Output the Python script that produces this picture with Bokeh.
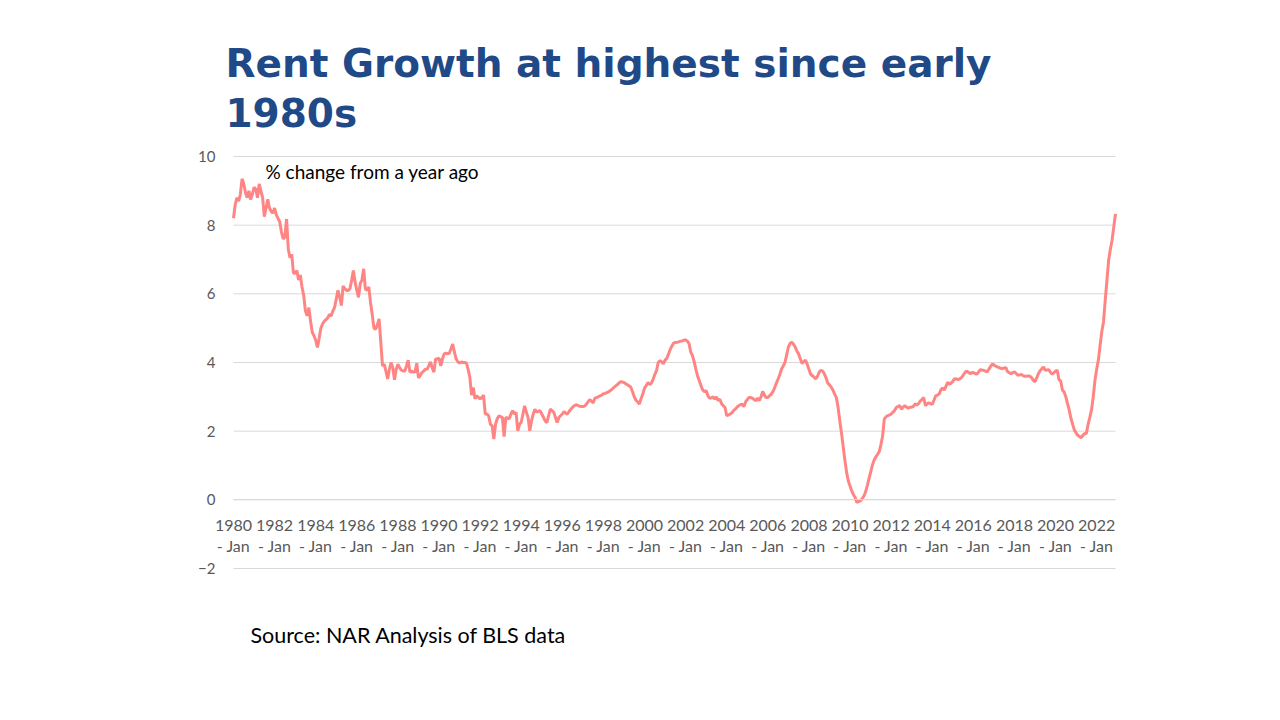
import pandas as pd
from bokeh.plotting import figure
from bokeh.models import FixedTicker, Label, Range1d, ColumnDataSource
from bokeh.embed import file_html
from bokeh.resources import INLINE

# Monthly rent CPI, % change from a year ago
rent_1980s = [
    8.2, 8.6, 8.8, 8.7, 8.9, 9.35, 9.2, 8.95, 8.8, 9.0, 8.75, 8.9,
    9.1, 9.05, 8.8, 9.2, 9.0, 8.8, 8.25, 8.5, 8.75, 8.5, 8.4, 8.35,
    8.5, 8.3, 8.2, 8.1, 7.8, 7.6, 7.65, 8.18, 7.3, 7.05, 7.15, 6.6,
    6.6, 6.68, 6.4, 6.55, 6.2, 5.95, 5.5, 5.36, 5.6, 5.2, 4.88, 4.78,
    4.65, 4.44, 4.7, 5.0, 5.12, 5.2, 5.25, 5.3, 5.4, 5.35, 5.5, 5.6,
    5.85, 6.1, 5.9, 5.66, 6.23, 6.15, 6.1, 6.1, 6.15, 6.4, 6.68, 6.34,
    6.1, 5.9, 6.3, 6.4, 6.73, 6.14, 6.1, 6.2, 5.75, 5.4, 5.0, 4.97,
    5.1, 5.27, 4.6, 3.9, 3.95, 3.75, 3.52, 3.8, 4.0, 3.85, 3.5, 3.8,
    3.95, 3.85, 3.78, 3.75, 3.75, 3.9, 4.07, 3.72, 3.75, 3.72, 3.72, 3.98,
    3.55, 3.62, 3.7, 3.75, 3.8, 3.8, 3.9, 4.02, 3.85, 3.72, 4.1, 4.1,
]
rent_1990s = [
    4.13, 3.9, 4.1, 4.25, 4.27, 4.25, 4.27, 4.4, 4.54, 4.3, 4.1, 4.02,
    3.98, 4.02, 4.0, 4.0, 3.98, 3.8, 3.57, 3.05, 3.27, 2.94, 3.03, 2.98,
    2.94, 2.98, 3.05, 2.5, 2.5, 2.45, 2.2, 2.16, 1.77, 2.2, 2.36, 2.45,
    2.42, 2.4, 1.84, 2.4, 2.38, 2.36, 2.5, 2.6, 2.5, 2.55, 2.01, 2.2,
    2.26, 2.5, 2.74, 2.55, 2.4, 2.01, 2.3, 2.5, 2.64, 2.55, 2.58, 2.6,
    2.5, 2.4, 2.3, 2.25, 2.45, 2.64, 2.6, 2.55, 2.4, 2.25, 2.4, 2.45,
    2.5, 2.57, 2.52, 2.5, 2.58, 2.64, 2.7, 2.74, 2.77, 2.75, 2.73, 2.72,
    2.72, 2.73, 2.78, 2.85, 2.92, 2.88, 2.82, 2.96, 2.98, 3.0, 3.03, 3.05,
    3.09, 3.1, 3.12, 3.15, 3.18, 3.22, 3.27, 3.31, 3.35, 3.4, 3.44, 3.43,
    3.42, 3.38, 3.35, 3.32, 3.28, 3.15, 3.0, 2.9, 2.85, 2.79, 2.95, 3.08,
]
rent_2000s = [
    3.25, 3.33, 3.42, 3.36, 3.4, 3.51, 3.65, 3.76, 4.0, 4.05, 4.02, 3.96,
    4.07, 4.12, 4.25, 4.38, 4.48, 4.57, 4.58, 4.59, 4.6, 4.62, 4.63, 4.65,
    4.66, 4.62, 4.55, 4.3, 4.2, 4.02, 3.8, 3.6, 3.47, 3.32, 3.2, 3.15,
    3.18, 3.03, 2.96, 2.97, 3.0, 2.93, 3.0, 2.89, 2.93, 2.8, 2.74, 2.69,
    2.45, 2.47, 2.5, 2.53, 2.6, 2.64, 2.7, 2.74, 2.77, 2.79, 2.71, 2.85,
    2.92, 2.98, 2.98, 2.96, 2.92, 2.89, 2.96, 2.89, 3.0, 3.16, 3.05, 2.98,
    2.98, 3.03, 3.08, 3.15, 3.27, 3.4, 3.52, 3.65, 3.81, 3.9, 4.0, 4.22,
    4.45, 4.56, 4.59, 4.53, 4.45, 4.33, 4.25, 4.1, 3.97, 4.02, 4.07, 3.95,
    3.8, 3.66, 3.61, 3.58, 3.52, 3.6, 3.72, 3.77, 3.75, 3.67, 3.55, 3.4,
    3.35, 3.28, 3.2, 3.08, 2.98, 2.7, 2.3, 1.95, 1.55, 1.15, 0.8, 0.55,
]
rent_2010s = [
    0.4, 0.26, 0.15, 0.07, -0.08, -0.05, -0.03, 0.03, 0.1, 0.22, 0.4, 0.6,
    0.8, 1.0, 1.15, 1.25, 1.32, 1.4, 1.6, 1.85, 2.35, 2.42, 2.45, 2.47,
    2.5, 2.55, 2.6, 2.69, 2.72, 2.74, 2.64, 2.7, 2.74, 2.7, 2.67, 2.7,
    2.7, 2.72, 2.8, 2.76, 2.8, 2.88, 2.92, 2.98, 2.74, 2.8, 2.83, 2.8,
    2.78, 2.9, 3.03, 3.05, 3.08, 3.2, 3.26, 3.2, 3.3, 3.42, 3.37, 3.4,
    3.45, 3.53, 3.52, 3.5, 3.52, 3.56, 3.62, 3.7, 3.75, 3.72, 3.68, 3.7,
    3.71, 3.68, 3.66, 3.72, 3.79, 3.78, 3.77, 3.75, 3.73, 3.8, 3.88, 3.95,
    3.93, 3.9, 3.87, 3.85, 3.83, 3.82, 3.84, 3.85, 3.73, 3.7, 3.68, 3.7,
    3.73, 3.68, 3.63, 3.64, 3.65, 3.62, 3.6, 3.6, 3.61, 3.6, 3.56, 3.48,
    3.44, 3.55, 3.68, 3.76, 3.82, 3.87, 3.77, 3.78, 3.79, 3.72, 3.66, 3.7,
]
rent_2020s = [
    3.75, 3.77, 3.5, 3.46, 3.2, 3.14, 3.0, 2.8, 2.61, 2.37, 2.2, 2.03,
    1.95, 1.88, 1.84, 1.81, 1.88, 1.93, 1.93, 2.2, 2.4, 2.62, 3.0, 3.48,
    3.8, 4.07, 4.5, 4.9, 5.18, 5.81, 6.39, 6.98, 7.3, 7.56, 7.95, 8.33,
]

tick_years = list(range(1980, 2023, 2))
tick_labels = [f"{y}\n- Jan" for y in tick_years]
y_ticks = [-2, 0, 2, 4, 6, 8, 10]

title_lines = ["Rent Growth at highest since early", "1980s"]
subtitle = "% change from a year ago"
source_note = "Source: NAR Analysis of BLS data"

values = rent_1980s + rent_1990s + rent_2000s + rent_2010s + rent_2020s
months = pd.date_range("1980-01-01", periods=len(values), freq="MS")
idx = list(range(len(values)))
src = ColumnDataSource(dict(i=idx, v=values, m=months))
n_last = len(values) - 1

tick_pos = [(y - 1980) * 12 for y in tick_years]

# Frame covers the whole canvas; ranges chosen so the data area sits where
# the reference plot area is (x: 233..1115 px, y: 10 at 156 px, -2 at 568 px).
W, H = 1264, 704
px_per_month = 882.0 / n_last
px_per_unit = 412.0 / 12.0
x0 = -233.0 / px_per_month
x1 = (W - 233.0) / px_per_month
y1 = 10 + 156.0 / px_per_unit
y0 = 10 - (H - 156.0) / px_per_unit

p = figure(
    width=W, height=H, title=None,
    x_range=Range1d(x0, x1), y_range=Range1d(y0, y1),
    output_backend="svg", toolbar_location=None, min_border=0,
)
p.outline_line_color = None
p.background_fill_color = "white"
p.border_fill_color = "white"
p.grid.visible = False

# horizontal gridlines across the data span only
p.segment(x0=[0] * len(y_ticks), x1=[n_last] * len(y_ticks), y0=y_ticks, y1=y_ticks,
          line_color="#d9d9d9", line_width=1)

# y axis (labels only)
p.yaxis.fixed_location = 0
p.yaxis.ticker = FixedTicker(ticks=y_ticks)
p.yaxis.axis_line_color = None
p.yaxis.major_tick_line_color = None
p.yaxis.minor_tick_line_color = None
p.yaxis.major_label_text_font = "Lato"
p.yaxis.major_label_text_font_size = "15px"
p.yaxis.major_label_text_color = "#595959"
p.yaxis.major_label_standoff = 12

# x axis crossing at zero
p.xaxis.fixed_location = 0
p.xaxis.bounds = (0, n_last)
p.xaxis.ticker = FixedTicker(ticks=tick_pos)
p.xaxis.major_label_overrides = {pos: lab for pos, lab in zip(tick_pos, tick_labels)}
p.xaxis.axis_line_color = "#d9d9d9"
p.xaxis.major_tick_line_color = None
p.xaxis.minor_tick_line_color = None
p.xaxis.major_label_text_font = "Lato"
p.xaxis.major_label_text_font_size = "16px"
p.xaxis.major_label_text_color = "#595959"
p.xaxis.major_label_text_line_height = 1.1
p.xaxis.major_label_standoff = 9

p.line("i", "v", source=src, line_color="#FF8585", line_width=3)

# texts
p.add_layout(Label(x=18.7, y=9.55, text=subtitle, text_font="Lato",
                   text_font_size="19px", text_color="black",
                   text_baseline="alphabetic"))
p.add_layout(Label(x=9.9, y=-3.925, text=source_note, text_font="Lato",
                   text_font_size="21.5px", text_color="black",
                   text_baseline="alphabetic"))
p.add_layout(Label(x=-4.7, y=12.71, text=title_lines[0], text_font="DejaVu Sans",
                   text_font_style="bold", text_font_size="39px",
                   text_color="#1F4A87", text_baseline="alphabetic"))
p.add_layout(Label(x=-4.7, y=11.24, text=title_lines[1], text_font="DejaVu Sans",
                   text_font_style="bold", text_font_size="39px",
                   text_color="#1F4A87", text_baseline="alphabetic"))

open("out.html", "w").write(file_html(p, INLINE))
